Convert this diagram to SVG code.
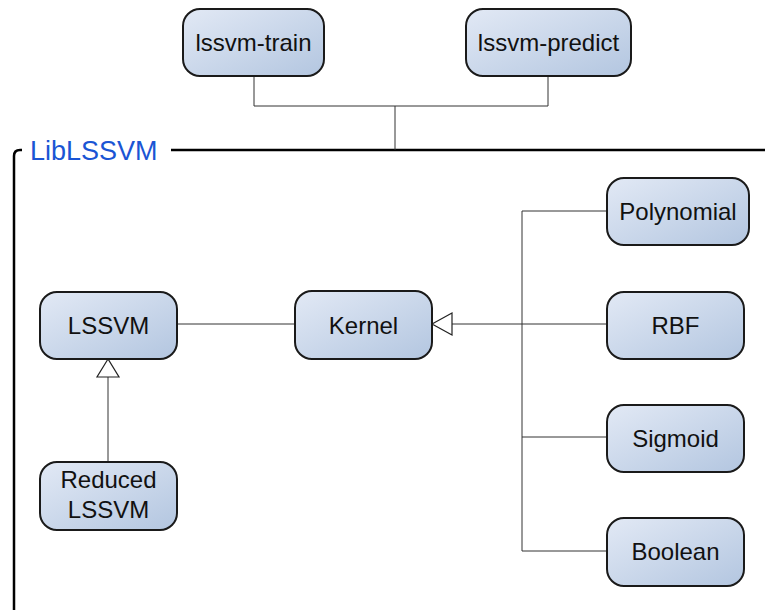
<svg xmlns="http://www.w3.org/2000/svg" width="765" height="610" viewBox="0 0 765 610">
  <defs>
    <linearGradient id="nodeFill" x1="0" y1="0" x2="1" y2="1">
      <stop offset="0" stop-color="#e2e9f5"/>
      <stop offset="1" stop-color="#b3c6e0"/>
    </linearGradient>
    <style>
      .node rect { fill: url(#nodeFill); stroke: #1a1a1a; stroke-width: 2; }
      .node text { font-family: "Liberation Sans", Arial, sans-serif; font-size: 24px; fill: #111; text-anchor: middle; }
      .conn { fill: none; stroke: #333; stroke-width: 1; }
      .tri { fill: #fff; stroke: #222; stroke-width: 1.2; }
      .frame { fill: none; stroke: #000; stroke-width: 2.5; }
      .pkg { font-family: "Liberation Sans", Arial, sans-serif; font-size: 27px; fill: #1a55d4; }
    </style>
  </defs>

  <!-- package frame -->
  <g id="package">
    <path class="frame" d="M14,610 V156 Q14,150 20,150 H22"/>
    <line class="frame" x1="171" y1="150" x2="765" y2="150"/>
    <text class="pkg" x="30" y="160">LibLSSVM</text>
  </g>

  <!-- connectors -->
  <g id="connectors">
    <path class="conn" d="M254,76 V106 H548 V76"/>
    <path class="conn" d="M395,106 V150"/>
    <path class="conn" d="M177,324 H295"/>
    <path class="conn" d="M452,324 H607"/>
    <path class="conn" d="M607,211 H522 V551 H607"/>
    <path class="conn" d="M522,437 H607"/>
    <path class="conn" d="M108,462 V377"/>
    <polygon class="tri" points="432,324 452,313 452,335"/>
    <polygon class="tri" points="108,359 97,377 119,377"/>
  </g>

  <!-- nodes -->
  <g id="lssvm-train" class="node">
    <rect x="183" y="9" width="141" height="67" rx="17"/>
    <text x="253.5" y="51">lssvm-train</text>
  </g>
  <g id="lssvm-predict" class="node">
    <rect x="466" y="9" width="165" height="67" rx="17"/>
    <text x="548.5" y="51">lssvm-predict</text>
  </g>
  <g id="LSSVM" class="node">
    <rect x="40" y="292" width="137" height="67" rx="17"/>
    <text x="108.5" y="334">LSSVM</text>
  </g>
  <g id="Kernel" class="node">
    <rect x="295" y="291" width="137" height="68" rx="17"/>
    <text x="363.5" y="334">Kernel</text>
  </g>
  <g id="ReducedLSSVM" class="node">
    <rect x="40" y="462" width="137" height="68" rx="17"/>
    <text x="108.5" y="488">Reduced</text>
    <text x="108.5" y="518">LSSVM</text>
  </g>
  <g id="Polynomial" class="node">
    <rect x="607" y="178" width="142" height="67" rx="17"/>
    <text x="678" y="220">Polynomial</text>
  </g>
  <g id="RBF" class="node">
    <rect x="607" y="292" width="137" height="67" rx="17"/>
    <text x="675.5" y="334">RBF</text>
  </g>
  <g id="Sigmoid" class="node">
    <rect x="607" y="405" width="137" height="67" rx="17"/>
    <text x="675.5" y="447">Sigmoid</text>
  </g>
  <g id="Boolean" class="node">
    <rect x="607" y="518" width="137" height="68" rx="17"/>
    <text x="675.5" y="560">Boolean</text>
  </g>
</svg>
